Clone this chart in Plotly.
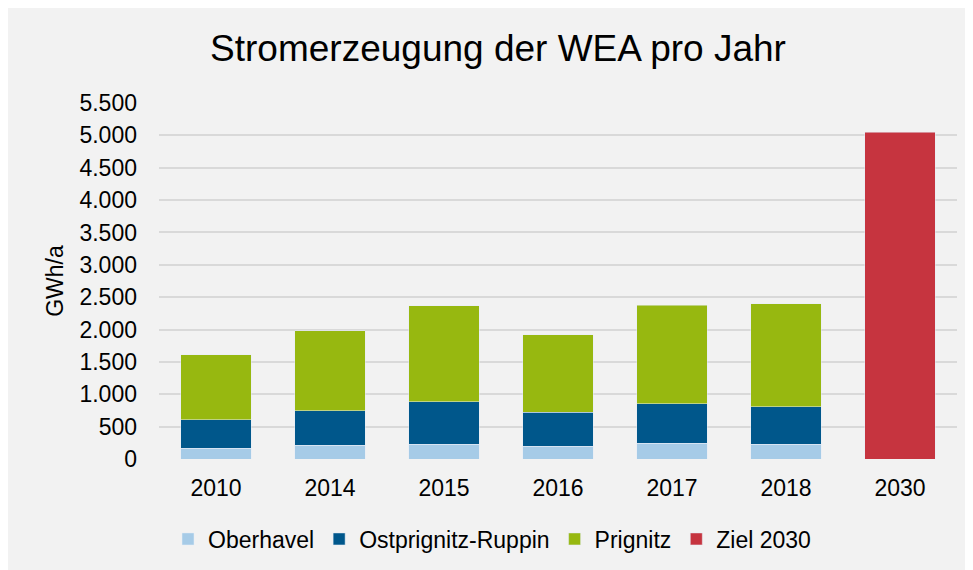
import plotly.graph_objects as go

years = ["2010", "2014", "2015", "2016", "2017", "2018"]
oberhavel = [170, 216, 227, 196, 247, 227]
ostprignitz_ruppin = [433, 531, 654, 526, 603, 581]
prignitz = [1010, 1231, 1484, 1194, 1525, 1587]
ziel_x = ["2030"]
ziel_2030 = [5050]
all_categories = years + ziel_x
y_ticks = [0, 500, 1000, 1500, 2000, 2500, 3000, 3500, 4000, 4500, 5000, 5500]
y_ticktext = ["0", "500", "1.000", "1.500", "2.000", "2.500", "3.000", "3.500",
              "4.000", "4.500", "5.000", "5.500"]

FONT = "Liberation Sans, Arial, sans-serif"

fig = go.Figure()
fig.add_trace(go.Bar(name="Oberhavel", x=years, y=oberhavel, marker_color="#a6cbe7"))
fig.add_trace(go.Bar(name="Ostprignitz-Ruppin", x=years, y=ostprignitz_ruppin, marker_color="#00578b"))
fig.add_trace(go.Bar(name="Prignitz", x=years, y=prignitz, marker_color="#97b810"))
fig.add_trace(go.Bar(name="Ziel 2030", x=ziel_x, y=ziel_2030, marker_color="#c6343f"))

# page has an 8px body margin, so the figure is drawn at (8, 8)
W, H = 965, 562
L, R, T, B = 151, 16, 95, 111

fig.update_layout(
    width=W, height=H,
    barmode="stack", bargap=0.38,
    paper_bgcolor="#f2f2f2", plot_bgcolor="rgba(0,0,0,0)",
    margin=dict(l=L, r=R, t=T, b=B),
    font=dict(family=FONT, color="#000000", size=23),
    title=dict(text="Stromerzeugung der WEA pro Jahr", x=490 / W, xref="container",
               y=1 - 40 / H, yref="container", xanchor="center", yanchor="middle",
               font=dict(size=37, family=FONT, color="#000000")),
    legend=dict(orientation="h", xref="container", yref="container",
                x=484 / W, y=1 - 531 / H, xanchor="center", yanchor="middle",
                font=dict(size=23, family=FONT), traceorder="normal",
                bgcolor="rgba(0,0,0,0)"),
    xaxis=dict(type="category", categoryorder="array", categoryarray=all_categories,
               showgrid=False, showline=False, zeroline=False,
               ticks="", ticklabelstandoff=13, tickfont=dict(size=23)),
    yaxis=dict(range=[0, 5500], tickvals=y_ticks, ticktext=y_ticktext,
               showgrid=True, gridcolor="#d9d9d9", gridwidth=2,
               zeroline=False, showline=False, ticks="",
               ticklabelstandoff=21, tickfont=dict(size=23),
               title=dict(text="GWh/a", font=dict(size=23), standoff=9)),
)

fig.write_html("out.html")
